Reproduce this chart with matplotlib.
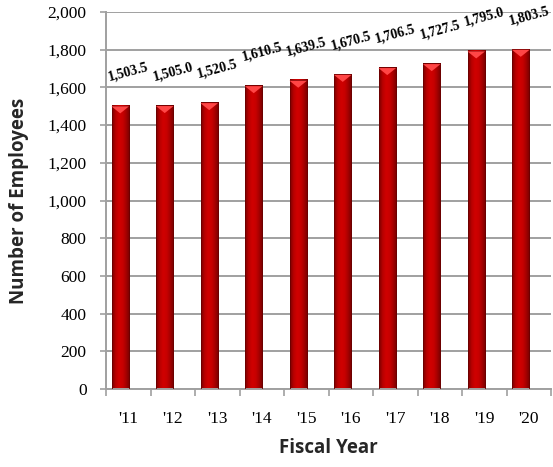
import matplotlib
matplotlib.use("Agg")
import matplotlib.pyplot as plt
import numpy as np
from matplotlib.colors import LinearSegmentedColormap

years = ["'11", "'12", "'13", "'14", "'15", "'16", "'17", "'18", "'19", "'20"]
employees = [1503.5, 1505.0, 1520.5, 1610.5, 1639.5, 1670.5, 1706.5, 1727.5, 1795.0, 1803.5]
value_labels = ["1,503.5", "1,505.0", "1,520.5", "1,610.5", "1,639.5", "1,670.5",
                "1,706.5", "1,727.5", "1,795.0", "1,803.5"]
yticks = [0, 200, 400, 600, 800, 1000, 1200, 1400, 1600, 1800, 2000]
ytick_labels = ["0", "200", "400", "600", "800", "1,000", "1,200", "1,400", "1,600", "1,800", "2,000"]

fig = plt.figure(figsize=(5.53, 4.67), dpi=100)
ax = fig.add_axes([106/553, (467-389)/467, (551-106)/553, (389-12)/467])

n = len(years)
centers = np.arange(n)
bar_x = centers - 0.18
width = 0.39

cmap = LinearSegmentedColormap.from_list("cyl", ["#7a0000", "#b80000", "#d00000", "#c80000", "#a40000", "#740000"])
grad = np.linspace(0, 1, 64).reshape(1, -1)

gray = "#a0a0a0"
ax.set_axisbelow(True)
ax.yaxis.grid(True, color=gray, linewidth=1.4, zorder=0)

for xb, v in zip(bar_x, employees):
    ax.imshow(grad, extent=[xb - width/2, xb + width/2, 0, v], aspect="auto",
              cmap=cmap, zorder=2, interpolation="bilinear")
    ax.bar(xb, v, width=width, color="none", edgecolor="#6a0000", linewidth=0.6, zorder=3)

tri = [(-1.0, 0.3), (1.0, 0.3), (0.0, -0.5), (-1.0, 0.3)]
ax.scatter(bar_x, np.array(employees) - 18, marker=tri, s=160, color="#ff4646",
           edgecolors="none", zorder=4)

for xb, v, lab in zip(bar_x, employees, value_labels):
    ax.annotate(lab, (xb, v), xytext=(6, 24), textcoords="offset points",
                ha="center", va="center", rotation=15, fontsize=10,
                fontweight="bold", family="Liberation Serif", zorder=5)

ax.set_xlim(-0.5, n - 0.5)
ax.set_ylim(0, 2000)
ax.set_yticks(yticks)
ax.set_yticklabels(ytick_labels, family="Liberation Serif", fontsize=12.5)
ax.tick_params(axis="y", length=4, color=gray, width=1.2, pad=10)

ax.set_xticks(np.arange(n + 1) - 0.5)
ax.set_xticklabels([])
ax.set_xticks(centers, minor=True)
ax.set_xticklabels(years, minor=True, family="Liberation Serif", fontsize=12.5)
ax.tick_params(axis="x", which="major", length=5, color=gray, width=1.2)
ax.tick_params(axis="x", which="minor", length=0, pad=16)

for s in ["top", "right"]:
    ax.spines[s].set_visible(False)
for s in ["left", "bottom"]:
    ax.spines[s].set_color(gray)
    ax.spines[s].set_linewidth(1.4)

ax.set_xlabel("Fiscal Year", family="Open Sans", fontweight="bold", fontsize=13.5, color="#262626", labelpad=8)
ax.set_ylabel("Number of Employees", family="Open Sans", fontweight="bold", fontsize=13.5, color="#262626", labelpad=13)

fig.savefig("out.png", dpi=100)
